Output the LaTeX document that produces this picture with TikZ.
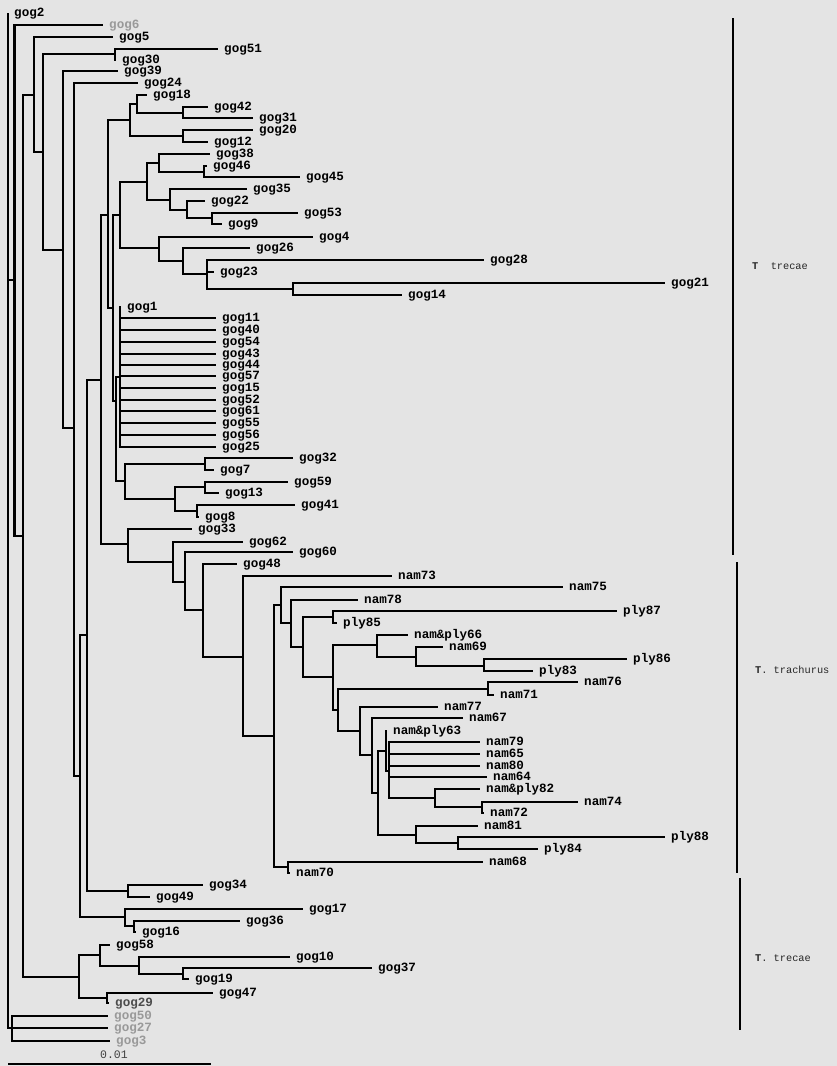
\documentclass[tikz,border=0pt]{standalone}
\usepackage{fontspec}
\newfontfamily\lmono{Liberation Mono}
\definecolor{bg}{RGB}{228,228,228}
\newcommand\tip[4][]{\coordinate (#2) at (#3); \node[lab,#1] (#2-t) at (#2) {#4};}
\newcommand\inn[2]{\coordinate (#1) at (#2);}
\newcommand\kids[2]{\foreach \ch in {#2} {\draw[br] (#1) |- (\ch);}}
\begin{document}
\begin{tikzpicture}[x=1pt,y=-1pt,
  br/.style={line width=2.1pt},
  lab/.style={anchor=base west, inner sep=0pt, xshift=6pt, yshift=-3.8pt,
              font=\lmono\bfseries\fontsize{12.6}{14}\selectfont},
  faded/.style={text=black!40},
  grp/.style={line width=1.3pt},
  grplab/.style={anchor=west, inner sep=0pt, font=\lmono\fontsize{10.3}{12}\selectfont, text=black!85}]
\fill[bg] (0,0) rectangle (837,1066);
\useasboundingbox (0,0) rectangle (837,1066);
% ---------- internal nodes
\inn{root}{8,520} \inn{Bt}{12,1028} \inn{N1}{14.5,280} \inn{N2}{23,536}
\inn{A}{34,95} \inn{B}{43,152} \inn{C}{115,54} \inn{D}{63,250} \inn{E}{74,428}
\inn{F}{80,776} \inn{G}{87,635} \inn{Jb}{128,891} \inn{H}{125,917} \inn{I}{134,926}
\inn{J}{101,380} \inn{K}{108,215} \inn{L}{128,544}
\inn{Q}{130,120} \inn{P}{137,104} \inn{S}{183,113} \inn{R}{183,136}
\inn{U}{113,308} \inn{T}{120,215} \inn{T1}{147,182} \inn{T1a}{159,163} \inn{T1c}{204,172}
\inn{T1b}{170,200} \inn{T1d}{187,210} \inn{T1e}{212,218}
\inn{T2}{159,248} \inn{T2a}{183,261} \inn{T2b}{207,274} \inn{T2c}{293,289}
\inn{Z}{116,401} \inn{V}{120,377} \inn{X}{125,481} \inn{Y1}{205,464} \inn{Y2}{175,499}
\inn{Y3}{205,487} \inn{Y4}{197,511}
\inn{L1}{173,562} \inn{L2}{185,582} \inn{L3}{203,610} \inn{L4}{243,657} \inn{L5}{274,736}
\inn{L6}{288,867} \inn{L7}{281,605} \inn{L8}{291,623} \inn{L9}{303,647} \inn{L10}{333,617}
\inn{L11}{333,677} \inn{L12}{377,645} \inn{L14}{416,657} \inn{L15}{484,666} \inn{L13}{338,710}
\inn{L16}{488,689} \inn{L17}{360,731} \inn{L18}{372,755} \inn{L19}{378,793} \inn{L20}{386,751}
\inn{L23}{389,771} \inn{L22}{435,798} \inn{L24}{482,807} \inn{L21}{416,835} \inn{L25}{458,843}
\inn{G58}{79,977} \inn{G1}{100,955} \inn{G3}{139,966} \inn{G4}{183,974} \inn{G2}{107,998}
% ---------- leaves
\tip{g2}{8,13}{gog2}
\tip[faded]{g6}{103,25}{gog6}
\tip{g5}{113,37}{gog5}
\tip{g51}{218,49}{gog51}
\tip{g30}{116,60}{gog30}
\tip{g39}{118,71}{gog39}
\tip{g24}{138,83}{gog24}
\tip{g18}{147,95}{gog18}
\tip{g42}{208,107}{gog42}
\tip{g31}{253,118}{gog31}
\tip{g20}{253,130}{gog20}
\tip{g12}{208,142}{gog12}
\tip{g38}{210,154}{gog38}
\tip{g46}{207,166}{gog46}
\tip{g45}{300,177}{gog45}
\tip{g35}{247,189}{gog35}
\tip{g22}{205,201}{gog22}
\tip{g53}{298,213}{gog53}
\tip{g9}{222,224}{gog9}
\tip{g4}{313,237}{gog4}
\tip{g26}{250,248}{gog26}
\tip{g28}{484,260}{gog28}
\tip{g23}{214,272}{gog23}
\tip{g21}{665,283}{gog21}
\tip{g14}{402,295}{gog14}
\tip{g1}{121,307}{gog1}
\tip{g11}{216,318}{gog11}
\tip{g40}{216,330}{gog40}
\tip{g54}{216,342}{gog54}
\tip{g43}{216,354}{gog43}
\tip{g44}{216,365}{gog44}
\tip{g57}{216,376}{gog57}
\tip{g15}{216,388}{gog15}
\tip{g52}{216,400}{gog52}
\tip{g61}{216,411}{gog61}
\tip{g55}{216,423}{gog55}
\tip{g56}{216,435}{gog56}
\tip{g25}{216,447}{gog25}
\tip{g32}{293,458}{gog32}
\tip{g7}{214,470}{gog7}
\tip{g59}{288,482}{gog59}
\tip{g13}{219,493}{gog13}
\tip{g41}{295,505}{gog41}
\tip{g8}{199,517}{gog8}
\tip{g33}{192,529}{gog33}
\tip{g62}{243,542}{gog62}
\tip{g60}{293,552}{gog60}
\tip{g48}{237,564}{gog48}
\tip{n73}{392,576}{nam73}
\tip{n75}{563,587}{nam75}
\tip{n78}{358,600}{nam78}
\tip{p87}{617,611}{ply87}
\tip{p85}{337,623}{ply85}
\tip{np66}{408,635}{nam\&ply66}
\tip{n69}{443,647}{nam69}
\tip{p86}{627,659}{ply86}
\tip{p83}{533,671}{ply83}
\tip{n76}{578,682}{nam76}
\tip{n71}{494,695}{nam71}
\tip{n77}{438,707}{nam77}
\tip{n67}{463,718}{nam67}
\tip{np63}{387,731}{nam\&ply63}
\tip{n79}{480,742}{nam79}
\tip{n65}{480,754}{nam65}
\tip{n80}{480,766}{nam80}
\tip{n64}{487,777}{nam64}
\tip{np82}{480,789}{nam\&ply82}
\tip{n74}{578,802}{nam74}
\tip{n72}{484,813}{nam72}
\tip{n81}{478,826}{nam81}
\tip{p88}{665,837}{ply88}
\tip{p84}{538,849}{ply84}
\tip{n68}{483,862}{nam68}
\tip{n70}{290,873}{nam70}
\tip{g34}{203,885}{gog34}
\tip{g49}{150,897}{gog49}
\tip{g17}{303,909}{gog17}
\tip{g36}{240,921}{gog36}
\tip{g16}{136,932}{gog16}
\tip{g58}{110,945}{gog58}
\tip{g10}{290,957}{gog10}
\tip{g37}{372,968}{gog37}
\tip{g19}{189,979}{gog19}
\tip{g47}{213,993}{gog47}
\tip[text=black!70]{g29}{109,1003}{gog29}
\tip[faded]{g50}{108,1016}{gog50}
\tip[faded]{g27}{108,1028}{gog27}
\tip[faded]{g3}{110,1041}{gog3}
% ---------- branches
\kids{root}{g2,N1,Bt}
\kids{Bt}{g50,g27,g3}
\kids{N1}{g6,N2}
\kids{N2}{A,G58}
\kids{A}{g5,B}
\kids{B}{C,D}
\kids{C}{g51,g30}
\kids{D}{g39,E}
\kids{E}{g24,F}
\kids{F}{G,H}
\kids{G}{J,Jb}
\kids{Jb}{g34,g49}
\kids{H}{g17,I}
\kids{I}{g36,g16}
\kids{J}{K,L}
\kids{K}{Q,U}
\kids{Q}{P,R}
\kids{P}{g18,S}
\kids{S}{g42,g31}
\kids{R}{g20,g12}
\kids{U}{T,Z}
\kids{T}{T1,T2}
\kids{T1}{T1a,T1b}
\kids{T1a}{g38,T1c}
\kids{T1c}{g46,g45}
\kids{T1b}{g35,T1d}
\kids{T1d}{g22,T1e}
\kids{T1e}{g53,g9}
\kids{T2}{g4,T2a}
\kids{T2a}{g26,T2b}
\kids{T2b}{g28,g23,T2c}
\kids{T2c}{g21,g14}
\kids{Z}{V,X}
\kids{V}{g1,g11,g40,g54,g43,g44,g57,g15,g52,g61,g55,g56,g25}
\kids{X}{Y1,Y2}
\kids{Y1}{g32,g7}
\kids{Y2}{Y3,Y4}
\kids{Y3}{g59,g13}
\kids{Y4}{g41,g8}
\kids{L}{g33,L1}
\kids{L1}{g62,L2}
\kids{L2}{g60,L3}
\kids{L3}{g48,L4}
\kids{L4}{n73,L5}
\kids{L5}{L7,L6}
\kids{L6}{n68,n70}
\kids{L7}{n75,L8}
\kids{L8}{n78,L9}
\kids{L9}{L10,L11}
\kids{L10}{p87,p85}
\kids{L11}{L12,L13}
\kids{L12}{np66,L14}
\kids{L14}{n69,L15}
\kids{L15}{p86,p83}
\kids{L13}{L16,L17}
\kids{L16}{n76,n71}
\kids{L17}{n77,L18}
\kids{L18}{n67,L19}
\kids{L19}{L20,L21}
\kids{L20}{np63,L23}
\kids{L23}{n79,n65,n80,n64,L22}
\kids{L22}{np82,L24}
\kids{L24}{n74,n72}
\kids{L21}{n81,L25}
\kids{L25}{p88,p84}
\kids{G58}{G1,G2}
\kids{G1}{g58,G3}
\kids{G3}{g10,G4}
\kids{G4}{g37,g19}
\kids{G2}{g47,g29}
% ---------- group bars
\coordinate (b1a) at (733,18); \coordinate (b1b) at (733,555);
\coordinate (b2a) at (737,562); \coordinate (b2b) at (737,873);
\coordinate (b3a) at (740,878); \coordinate (b3b) at (740,1030);
\draw[grp] (b1a) -- (b1b);
\draw[grp] (b2a) -- (b2b);
\draw[grp] (b3a) -- (b3b);
\node[grplab] (lab1) at (752,266) {\textbf{T}\phantom{.} trecae};
\node[grplab] (lab2) at (755,670) {\textbf{T}. trachurus};
\node[grplab] (lab3) at (755,958) {\textbf{T}. trecae};
% ---------- scale bar
\coordinate (s1) at (8,1064); \coordinate (s2) at (211,1064);
\draw[line width=2.6pt] (s1) -- (s2);
\node[font=\lmono\fontsize{11.5}{12}\selectfont, text=black!75, inner sep=0pt] (sl) at (114,1055) {0.01};
\end{tikzpicture}
\end{document}
